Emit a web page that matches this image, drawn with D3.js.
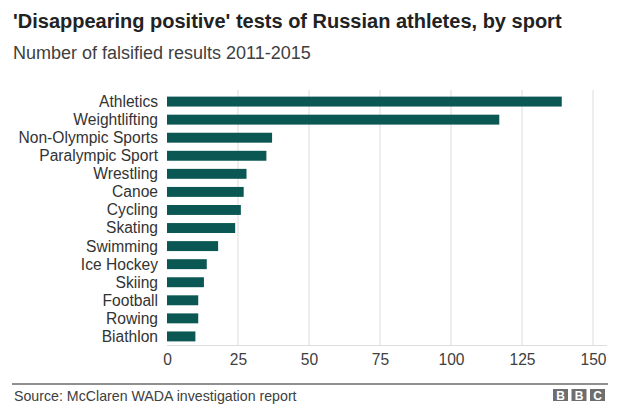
<html lang="en">
<head>
<style>
	body { margin: 0; background: #fff; }
	text { font-family: "Liberation Sans", Arial, sans-serif; }
	.grid line { stroke: #dcdcdc; }
</style>
</head>
<body>
<svg width="624" height="420"></svg>
<script src="https://d3js.org/d3.v7.min.js"></script>
<script>
	var sports = ["Athletics", "Weightlifting", "Non-Olympic Sports", "Paralympic Sport", "Wrestling",
		"Canoe", "Cycling", "Skating", "Swimming", "Ice Hockey", "Skiing", "Football", "Rowing", "Biathlon"];
	var results = [139, 117, 37, 35, 28, 27, 26, 24, 18, 14, 13, 11, 11, 10];
	var ticks = [0, 25, 50, 75, 100, 125, 150];

	var svg = d3.select("svg");
	var plotLeft = 167, plotRight = 593, plotTop = 93, plotBottom = 345;

	svg.append("text")
		.attr("x", 13).attr("y", 28)
		.attr("font-size", "20px").attr("font-weight", "bold")
		.attr("fill", "#222")
		.text("'Disappearing positive' tests of Russian athletes, by sport");

	svg.append("text")
		.attr("x", 13).attr("y", 59)
		.attr("font-size", "18px")
		.attr("fill", "#404040")
		.text("Number of falsified results 2011-2015");

	var x = d3.scaleLinear().domain([0, 150]).range([plotLeft, plotRight]);
	var y = d3.scaleBand().domain(sports).range([plotTop, plotBottom]).paddingInner(0.45).paddingOuter(0.2);

	// gridlines
	svg.append("g").attr("class", "grid")
		.selectAll("line")
		.data(ticks.slice(1))
		.enter().append("line")
		.attr("x1", function(d) { return x(d); })
		.attr("x2", function(d) { return x(d); })
		.attr("y1", plotTop - 3)
		.attr("y2", plotBottom);

	svg.append("line")
		.attr("x1", plotLeft).attr("x2", plotRight + 14)
		.attr("y1", plotBottom + 0.5).attr("y2", plotBottom + 0.5)
		.attr("stroke", "#dcdcdc");

	svg.append("g")
		.selectAll("rect")
		.data(sports)
		.enter().append("rect")
		.attr("x", x(0))
		.attr("y", function(d) { return y(d); })
		.attr("width", function(d, i) { return x(results[i]) - x(0); })
		.attr("height", y.bandwidth())
		.attr("fill", "#0a5753");

	// category labels
	svg.append("g")
		.selectAll("text")
		.data(sports)
		.enter().append("text")
		.attr("x", 158)
		.attr("y", function(d) { return y(d) + y.bandwidth() / 2; })
		.attr("dy", "0.35em")
		.attr("text-anchor", "end")
		.attr("font-size", "15.6px")
		.attr("fill", "#333")
		.text(function(d) { return d; });

	// x axis labels
	var xAxis = svg.append("g")
		.attr("transform", "translate(0," + plotBottom + ")")
		.call(d3.axisBottom(x).tickValues(ticks).tickSize(0).tickPadding(9));
	xAxis.select(".domain").remove();
	xAxis.selectAll("text")
		.attr("font-size", "15.6px")
		.attr("font-family", "Liberation Sans, Arial, sans-serif")
		.attr("fill", "#404040");

	// footer
	svg.append("line")
		.attr("x1", 12).attr("x2", 608)
		.attr("y1", 384).attr("y2", 384)
		.attr("stroke", "#222").attr("stroke-width", 1);

	svg.append("text")
		.attr("x", 14).attr("y", 401)
		.attr("font-size", "14.2px")
		.attr("fill", "#404040")
		.text("Source: McClaren WADA investigation report");

	var logo = svg.append("g").attr("transform", "translate(553,389)");
	["B", "B", "C"].forEach(function(c, i) {
		logo.append("rect")
			.attr("x", i * 18.5).attr("y", 0)
			.attr("width", 15).attr("height", 12)
			.attr("fill", "#6e6e6e");
		logo.append("text")
			.attr("x", i * 18.5 + 7.5).attr("y", 10.5)
			.attr("text-anchor", "middle")
			.attr("font-size", "12px").attr("font-weight", "bold")
			.attr("fill", "#fff")
			.text(c);
	});
</script>
</body>
</html>
